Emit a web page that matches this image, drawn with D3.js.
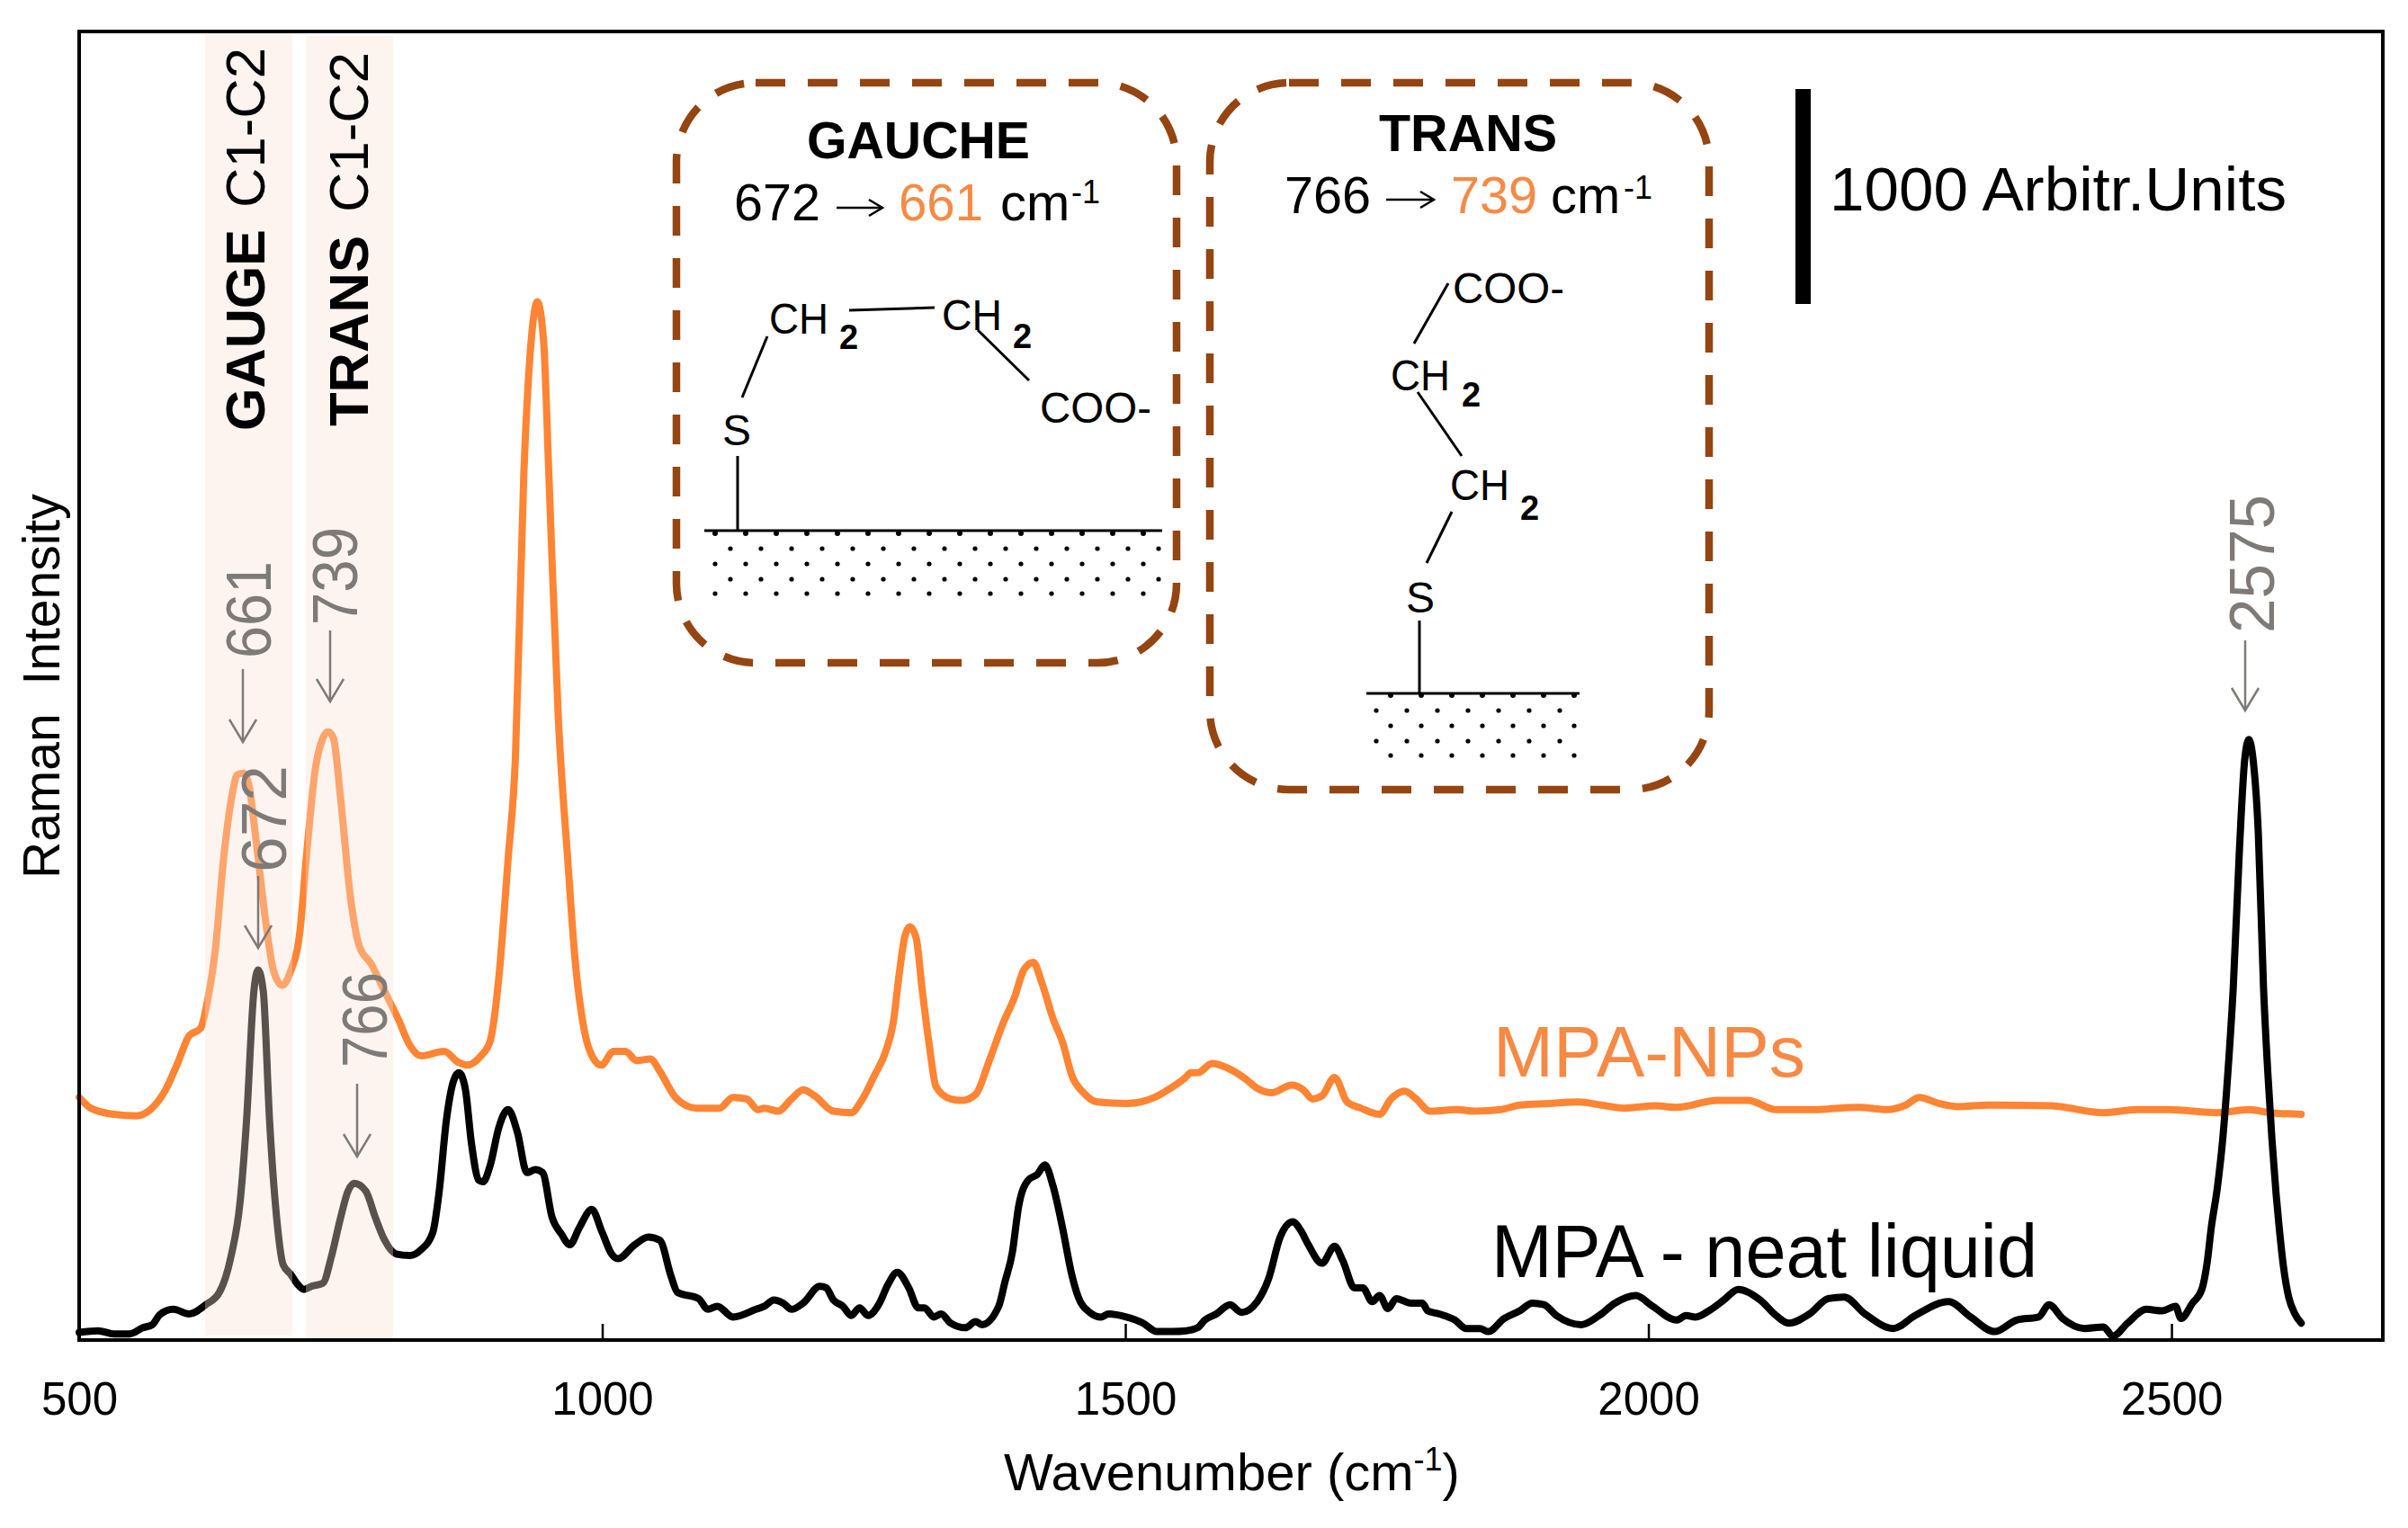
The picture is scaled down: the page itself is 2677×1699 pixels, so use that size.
<!DOCTYPE html>
<html><head><meta charset="utf-8">
<script src="https://cdn.jsdelivr.net/npm/d3@7"></script>
<style>html,body{margin:0;padding:0;background:#fff}svg{display:block}text{font-family:"Liberation Sans",Arial,sans-serif}</style>
</head><body><svg id="c" width="2677" height="1699"></svg>
<script>
// Series values: intensity (140 units = the 1000 Arbitr.Units bar)
const neatWavenumber = [500,518,533,548,561,570,577,590,605,621,634,645,654,660,667,671,676,682,689,695,702,708,715,722,733,741,750,757,763,774,783,792,803,816,827,838,844,851,858,863,869,875,882,886,893,901,910,919,928,936,943,952,961,969,978,990,1000,1009,1015,1031,1044,1055,1066,1072,1092,1101,1110,1125,1147,1155,1164,1173,1181,1192,1208,1214,1221,1230,1238,1246,1254,1265,1273,1282,1293,1302,1308,1317,1324,1333,1347,1357,1363,1379,1385,1392,1398,1407,1416,1423,1431,1440,1449,1455,1466,1477,1484,1501,1517,1530,1545,1558,1569,1576,1587,1600,1611,1626,1637,1648,1660,1668,1675,1688,1700,1708,1719,1727,1736,1743,1751,1759,1773,1784,1789,1800,1815,1826,1839,1847,1862,1877,1889,1900,1912,1936,1953,1968,1988,2004,2027,2036,2045,2060,2072,2086,2107,2122,2134,2154,2172,2187,2207,2234,2255,2287,2308,2331,2352,2373,2383,2396,2417,2435,2444,2458,2476,2491,2504,2509,2520,2529,2534,2538,2544,2549,2554,2559,2565,2570,2574,2578,2583,2588,2592,2596,2600,2603,2607,2612,2618,2624];
const neatIntensity = [5,6,4,4,8,10,16.5,20,17,23,31,54,91,143,227,241,227,143,78,49,43,37,33,35,37,54,80,97,102,97,80,65,56,55,59,70,96,143,169,174,164,128,104,103,114,138,150,135,109,111,109,80,69,62,73,85,70,56,53,62,67,65,41,31,27,20,22,15,20,22,26,24,20,24,35,34,26,22,16,21,16,24,36,44,34,21,21,15,17,11,8,12,10,22,38,57,87,104,108,114,100,73,42,28,18,15,17,15,11,5.5,5.5,6,8,13,17,23,18,25,40,67,77,71,62,50,61,51.5,34,34,25,29,20.5,27,24,24,19,17,13,7.5,7.5,5.5,14,19,24,23,16,10,16,24,29,22,13,16,15,20,26,33,26,16,11,17,27,28,17,7.5,16,25,15,5.5,13,15,23,14,7.5,8.5,2.5,11,20,19,22,14,24,33,50,73,100,131,175,229,320,378,391,378,330,229,175,131,95,73,48,28,17,11];
const npWavenumber = [500,511,533,555,568,581,594,605,616,623,630,638,647,651,657,662,669,678,686,694,702,711,717,726,733,738,743,750,759,768,779,792,805,816,827,849,862,871,884,893,901,910,917,925,932,938,944,949,958,967,974,983,991,999,1011,1022,1033,1046,1055,1070,1090,1112,1125,1138,1149,1155,1168,1181,1192,1203,1221,1238,1247,1260,1271,1278,1284,1289,1294,1300,1306,1313,1319,1333,1344,1357,1370,1383,1394,1403,1412,1420,1431,1440,1449,1460,1473,1501,1528,1541,1556,1563,1569,1583,1598,1615,1626,1640,1659,1670,1679,1688,1700,1712,1725,1743,1754,1767,1778,1791,1817,1835,1859,1877,1905,1933,1955,1977,2007,2027,2066,2095,2122,2154,2201,2228,2246,2259,2278,2296,2325,2385,2435,2467,2497,2544,2574,2594,2624];
const npIntensity = [158,151,147,146,150,161,180,198,203,222,253,313,358,368,369,362,326,274,240,231,240,266,313,373,392,396,392,352,290,256,245,227,209,192,185,188,181,179,185,195,235,313,379,563,650,676,650,563,405,313,248,201,184,179,188,188,182,183,175,158,151,151,158,157,150,151,149,157,163,159,149,148,155,172,188,206,239,262,269,262,227,190,165,157,156,160,182,206,223,241,246,233,209,194,172,161,155,154,158,163,170,174,174,180,177,170,164,161,166,163,157,159,171,155,151,147,157,162,157,149,150,149,150,153,154,155,153,151,152.5,151.5,156,156,150,150,151.5,150,153,158,154,152,153,152.5,148,150,150,148,150,148,147];
const xTicks = [500,1000,1500,2000,2500];

const W=2677,H=1699;
const F={l:88,r:2649,t:35,b:1490};
const x=d3.scaleLinear().domain([500,2702]).range([F.l,F.r]);
const y=d3.scaleLinear().domain([0,852]).range([F.b,F.t]);
const svg=d3.select('#c');
const ORANGE='#ff8433',TEXTOR='#f68a45',GREY='#7e7a77',BROWN='#944511';

const line=d3.line().x(d=>x(d[0])).y(d=>y(d[1])).curve(d3.curveMonotoneX);
function drawSeries(w,v,col,sw){
  svg.append('path').datum(d3.zip(w,v)).attr('d',line).attr('fill','none').attr('stroke',col)
    .attr('stroke-width',sw).attr('stroke-linejoin','round').attr('stroke-linecap','round');
}
drawSeries(npWavenumber,npIntensity,ORANGE,8);
drawSeries(neatWavenumber,neatIntensity,'#000',8);

// translucent highlight bands over the curves
[[228,325,35,1485],[340,437,40,1491]].forEach(b=>{
  svg.append('rect').attr('x',b[0]).attr('y',b[2]).attr('width',b[1]-b[0]).attr('height',b[3]-b[2])
    .attr('fill','rgb(250,225,211)').attr('opacity',.36);
});

// axis
const ax=svg.append('g').attr('transform',`translate(0,${F.b})`)
  .call(d3.axisBottom(x).tickValues(xTicks).tickFormat(d3.format('d')).tickSizeInner(-18).tickSizeOuter(0).tickPadding(0));
ax.select('.domain').remove();
ax.selectAll('line').attr('stroke','#000').attr('stroke-width',2.5);
ax.selectAll('text').attr('font-size',51).attr('y',83).attr('dy',0).attr('fill','#000')
  .style('font-family','"Liberation Sans"');
svg.append('rect').attr('x',F.l).attr('y',F.t).attr('width',F.r-F.l).attr('height',F.b-F.t)
  .attr('fill','none').attr('stroke','#000').attr('stroke-width',4);

function T(s,px,py,size,opt={}){
  const t=svg.append('text').attr('font-size',size).attr('fill',opt.fill||'#000')
    .attr('font-weight',opt.bold?'bold':'normal').attr('text-anchor',opt.anchor||'start')
    .attr('transform',`translate(${px},${py})`+(opt.rot?` rotate(${opt.rot})`:''))
    .text(s);
  if(opt.len) t.attr('textLength',opt.len).attr('lengthAdjust','spacingAndGlyphs');
  return t;
}
function L(a,b,c,d,col='#000',sw=3){
  svg.append('line').attr('x1',a).attr('y1',b).attr('x2',c).attr('y2',d).attr('stroke',col).attr('stroke-width',sw);
}

// axis titles
const xt=T('Wavenumber (cm',1116,1657,58,{});
xt.append('tspan').attr('font-size',36).attr('dy',-22).text('-1');
xt.append('tspan').attr('dy',22).text(')');
T('Raman  Intensity',66,977,57,{rot:-90}).style('white-space','pre');

// band labels
T('GAUGE',294,479,62,{rot:-90,bold:true,len:224});
T('C1-C2',294,231,62,{rot:-90,len:178});
T('TRANS',409,474,62,{rot:-90,bold:true,len:212});
T('C1-C2',409,236,62,{rot:-90,len:178});

// peak labels with arrows
function peak(s,bx,y0,len,ax0,ay0,ay1,hw){
  T(s,bx,y0,70,{rot:-90,fill:GREY,len});
  L(ax0,ay0,ax0,ay1,GREY,2.5);
  svg.append('path').attr('d',`M${ax0-hw},${ay1-25}L${ax0},${ay1}L${ax0+hw},${ay1-25}`)
    .attr('fill','none').attr('stroke',GREY).attr('stroke-width',2.5);
}
peak('661',301,732,108,270,744,825,15);
peak('739',397,695,109,367,701,780,15);
peak('672',318,970,119,287,974,1054,15);
peak('766',430,1187,106,397,1205,1286,15);
peak('2575',2528,704,154,2496,712,790,15);

// series labels
T('MPA-NPs',1660,1197,80,{fill:TEXTOR,len:347});
T('MPA - neat liquid',1658,1420,84,{len:607});

// scale bar
svg.append('rect').attr('x',1996).attr('y',99).attr('width',17).attr('height',239).attr('fill','#000');
T('1000 Arbitr.Units',2034,234,69,{len:508});

// inset frames
function frame(a,b,c,d){
  svg.append('rect').attr('x',a).attr('y',b).attr('width',c-a).attr('height',d-b).attr('rx',88).attr('ry',88)
    .attr('fill','none').attr('stroke',BROWN).attr('stroke-width',8.5).attr('stroke-dasharray','33 25');
}
frame(752,92,1308,737);
frame(1345,92,1900,878);

function tarrow(a,c,yy){
  L(a,yy,c,yy,'#000',2.5);
  svg.append('path').attr('d',`M${c-15},${yy-9}L${c},${yy}L${c-15},${yy+9}`).attr('fill','none').attr('stroke','#000').attr('stroke-width',2.5);
}
function dots(x0,x1,rows){
  rows.forEach(r=>{
    d3.range(r[0],x1,34).forEach(px=>{
      svg.append('circle').attr('cx',px).attr('cy',r[1]).attr('r',r[2]||2.6).attr('fill','#000');
    });
  });
}

// GAUCHE inset
T('GAUCHE',897,176,57,{bold:true,len:248});
T('672',816,245,58,{len:96});
tarrow(930,981,231);
T('661',999,245,58,{fill:TEXTOR,len:94});
T('cm',1112,245,58);
T('-1',1191,226,36);
T('CH',855,371,48,{len:66});T('2',933,388,38,{bold:true});
T('CH',1047,367,48,{len:67});T('2',1126,387,38,{bold:true});
T('COO-',1156,470,48,{len:124});
T('S',803,495,48);
L(825,442,853,374);L(944,345,1039,342);L(1087,367,1144,423);L(820,507,820,589);
L(783,590,1292,590);
dots(783,1292,[[795,593,3],[812,610],[795,627],[812,644],[795,660]]);

// TRANS inset
T('TRANS',1533,168,57,{bold:true,len:198});
T('766',1428,237,58,{len:96});
tarrow(1541,1594,222);
T('739',1613,237,58,{fill:TEXTOR,len:96});
T('cm',1724,237,58);
T('-1',1805,221,36);
T('COO-',1615,337,48,{len:124});
T('CH',1546,434,48,{len:66});T('2',1625,452,38,{bold:true});
T('CH',1612,556,48,{len:66});T('2',1690,578,38,{bold:true});
T('S',1563,681,48);
L(1572,382,1610,315);L(1576,436,1625,507);L(1586,626,1614,569);L(1578,690,1578,771);
L(1519,771,1756,771);
dots(1519,1756,[[1546,773,3],[1530,790],[1546,807],[1530,824],[1546,840]]);
</script></body></html>
